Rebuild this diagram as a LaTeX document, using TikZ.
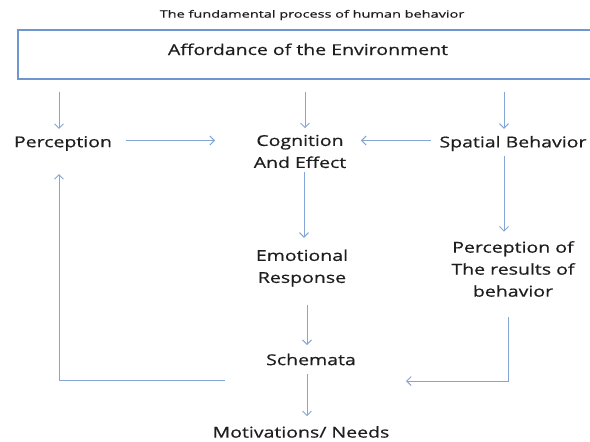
\documentclass[tikz,border=0pt]{standalone}
\usepackage{fontspec}
\setmainfont[FakeStretch=1.3, FakeBold=0.6]{Open Sans}
\newfontfamily\titlefont[FakeStretch=1.45, FakeBold=0.6]{Open Sans}
\usetikzlibrary{positioning,arrows.meta}
\definecolor{linkblue}{RGB}{132,166,214}
\definecolor{boxblue}{RGB}{112,150,208}
\definecolor{inkgray}{RGB}{30,30,30}
\tikzset{
  lbl/.style={text=inkgray, font=\fontsize{15}{22}\selectfont, align=center, inner sep=2pt},
  link/.style={draw=linkblue, line width=1pt}
}
\begin{document}
\begin{tikzpicture}[x=1pt, y=-1pt, >={Straight Barb[length=4.5pt,width=9pt]}]
  \useasboundingbox (0,0) rectangle (590,442);
  \node[text=inkgray, font=\titlefont\fontsize{10}{12}\selectfont] (title) at (312,15) {The fundamental process of human behavior};
  \node[draw=boxblue, line width=1.6pt, minimum width=580pt, inner ysep=0pt,
        text height=23pt, text depth=22pt, lbl] (env) at (308,54.5) {Affordance of the Environment};
  \node[lbl] (perc) at (63,143.5) {Perception};
  \node[lbl] (cog) at (300,151.5) {Cognition\\And Effect};
  \node[lbl] (spat) at (513,143.5) {Spatial Behavior};
  \node[lbl] (emo) at (302,268) {Emotional\\Response};
  \node[lbl] (res) at (513,269) {Perception of\\The results of\\behavior};
  \node[lbl] (sch) at (311,359.5) {Schemata};
  \node[lbl] (mot) at (301,432) {Motivations/ Needs};
  \coordinate (resin) at (406,381);
  \coordinate (loopin) at (225,380);
  % from the environment
  \draw[link, ->, shorten <=12pt, shorten >=5pt] ([xshift=-4pt]perc.north |- env.south) -- ([xshift=-4pt]perc.north);
  \draw[link, ->, shorten <=12pt, shorten >=4.5pt] ([xshift=5pt]cog.north |- env.south) -- ([xshift=5pt]cog.north);
  \draw[link, ->, shorten <=12pt, shorten >=5pt] ([xshift=-9pt]spat.north |- env.south) -- ([xshift=-9pt]spat.north);
  % middle row
  \draw[link, ->, shorten <=11.5pt, shorten >=36.5pt] ([yshift=3pt]perc.east) -- ([yshift=3pt]perc.east -| cog.west);
  \draw[link, ->, shorten <=6.5pt, shorten >=12.5pt] ([yshift=3pt]spat.west) -- ([yshift=3pt]spat.west -| cog.east);
  % downwards
  \draw[link, ->, shorten <=2pt, shorten >=9.5pt] ([xshift=4pt]cog.south) -- ([xshift=4pt]cog.south |- emo.north);
  \draw[link, ->, shorten <=3pt, shorten >=7.3pt] ([xshift=-9pt]spat.south) -- ([xshift=-9pt]spat.south |- res.north);
  \draw[link, ->, shorten <=16.5pt, shorten >=6.5pt] ([xshift=-4pt]sch.north |- emo.south) -- ([xshift=-4pt]sch.north);
  \draw[link, ->, shorten <=7pt, shorten >=7.8pt] ([xshift=-4pt]sch.south) -- ([xshift=-4pt]sch.south |- mot.north);
  % feedback
  \draw[link, ->, shorten <=18.3pt] ([xshift=-5pt]res.south) |- (resin);
  \draw[link, ->, shorten >=21pt] (loopin) -| ([xshift=-4pt]perc.south);
\end{tikzpicture}
\end{document}
